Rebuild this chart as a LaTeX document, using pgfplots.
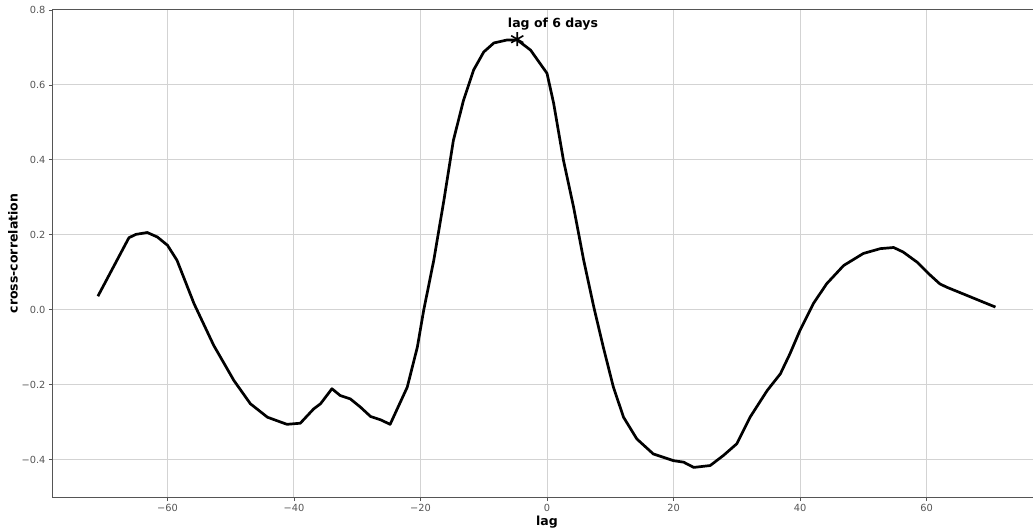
\documentclass[border=0pt]{standalone}
\usepackage{fontspec}
\setmainfont{DejaVu Sans}
\usepackage{pgfplots}
\pgfplotsset{compat=1.18}
\definecolor{gridgray}{HTML}{D3D3D3}
\definecolor{ticktext}{HTML}{555555}
\begin{document}
\begin{tikzpicture}
\begin{axis}[
  at={(0pt,0pt)}, anchor=south west,
  scale only axis,
  width=988pt, height=487pt,
  xmin=-78.1, xmax=78.1, ymin=-0.5, ymax=0.8,
  xtick={-60,-40,-20,0,20,40,60},
  xticklabels={−60,−40,−20,0,20,40,60},
  ytick={-0.4,-0.2,0,0.2,0.4,0.6,0.8},
  yticklabels={−0.4,−0.2,0.0,0.2,0.4,0.6,0.8},
  tick label style={font=\fontsize{9.8}{11}\selectfont, text=ticktext},
  tick align=outside, tick pos=left,
  major tick length=4pt,
  every tick/.style={ticktext, line width=0.8pt},
  grid=major,
  major grid style={gridgray, line width=1pt},
  axis line style={ticktext, line width=1pt},
  xlabel={\bfseries lag},
  ylabel={\bfseries cross-correlation},
  label style={font=\fontsize{12.5}{14}\selectfont\bfseries},
  xlabel style={yshift=3pt},
  ylabel style={yshift=-3pt},
  clip=false,
]
\addplot[black, line width=2.7pt, line join=round] coordinates {
(-71.0,0.036) (-66.1,0.192) (-65.0,0.201) (-63.2,0.206) (-61.6,0.194)
(-60.0,0.172) (-58.5,0.132) (-55.8,0.016) (-52.7,-0.095) (-49.5,-0.189)
(-46.9,-0.251) (-44.2,-0.287) (-42.1,-0.300) (-41.1,-0.306) (-39.0,-0.303)
(-36.9,-0.265) (-35.8,-0.251) (-34.0,-0.211) (-32.7,-0.229) (-31.1,-0.238)
(-29.5,-0.260) (-27.9,-0.285) (-26.3,-0.294) (-24.8,-0.306) (-22.1,-0.207)
(-20.5,-0.100) (-19.5,-0.002) (-17.9,0.132) (-16.3,0.292) (-14.8,0.452)
(-13.2,0.559) (-11.6,0.640) (-10.0,0.688) (-8.4,0.712) (-6.3,0.720)
(-4.7,0.720) (-2.6,0.693) (0.0,0.631) (1.05,0.551) (2.6,0.399)
(4.2,0.274) (5.8,0.132) (7.4,0.007) (8.9,-0.100) (10.5,-0.207)
(12.1,-0.287) (14.2,-0.345) (16.8,-0.385) (20.0,-0.403) (21.6,-0.407)
(23.2,-0.421) (25.8,-0.416) (27.9,-0.389) (30.0,-0.358) (32.1,-0.287)
(34.8,-0.216) (36.9,-0.171) (38.4,-0.118) (40.0,-0.055) (42.1,0.016)
(44.2,0.069) (46.9,0.118) (50.0,0.150) (52.7,0.163) (54.8,0.166)
(56.3,0.154) (58.5,0.127) (60.6,0.092) (62.1,0.069) (63.2,0.060)
(66.4,0.038) (69.0,0.020) (70.9,0.007)
};
\addplot[only marks, mark=asterisk, mark size=7pt, black, line width=1.6pt] coordinates {(-4.7,0.722)};
\node[anchor=west, font=\fontsize{12.5}{14}\selectfont\bfseries, inner sep=0pt] at (axis cs:-6.2,0.763) {lag of 6 days};
\end{axis}
\pgfresetboundingbox
\path[use as bounding box] (-53pt,-34pt) rectangle (980pt,497pt);
\end{tikzpicture}
\end{document}
